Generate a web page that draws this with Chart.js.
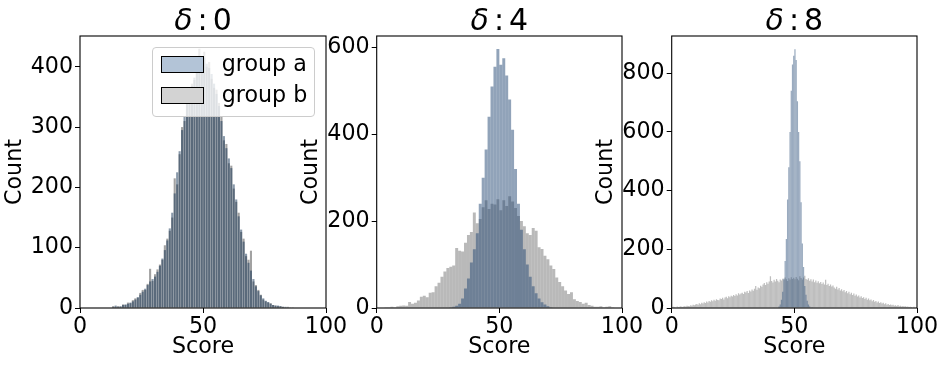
<!DOCTYPE html>
<html>
<head>
<meta charset="utf-8">
<script src="https://cdn.jsdelivr.net/npm/chart.js@4.4.0/dist/chart.umd.min.js"></script>
<style>
html,body{margin:0;padding:0;background:#fff;}
#wrap{position:relative;width:945px;height:366px;overflow:hidden;font-family:"DejaVu Sans";background:#fff;}
canvas{position:absolute;top:0;}
.title{position:absolute;top:2px;width:200px;height:35px;line-height:35px;font-size:30px;text-align:center;color:#000;white-space:nowrap;z-index:5;}
.title .d{font-style:italic;}
.title .c{margin:0 5px;}
.legend{position:absolute;left:151.7px;top:47.3px;width:161.3px;height:67.4px;background:rgba(255,255,255,0.8);border:1px solid #cccccc;border-radius:4px;z-index:5;}
.legend .patch{position:absolute;left:8px;width:43.3px;height:16.7px;border:1px solid #000;box-sizing:border-box;}
.legend .lab{position:absolute;left:69px;font-size:22.2px;line-height:25.84px;height:25.84px;color:#000;white-space:nowrap;}
</style>
</head>
<body>
<div id="wrap">
  <canvas id="c1" width="360" height="366" style="left:0px"></canvas>
  <canvas id="c2" width="360" height="366" style="left:300px"></canvas>
  <canvas id="c3" width="351" height="366" style="left:594px"></canvas>
  <div class="title" style="left:103px"><span class="d">δ</span><span class="c">:</span>0</div>
  <div class="title" style="left:399.35px"><span class="d">δ</span><span class="c">:</span>4</div>
  <div class="title" style="left:694.35px"><span class="d">δ</span><span class="c">:</span>8</div>
  <div class="legend">
    <div class="patch" style="top:7.7px;background:#b3c4d7"></div>
    <div class="lab" style="top:2.8px">group a</div>
    <div class="patch" style="top:39px;background:#d3d3d3"></div>
    <div class="lab" style="top:33.8px">group b</div>
  </div>
</div>
<script>
// ---------- DATA ----------
const seriesLabels = ['group a', 'group b'];
const panelTitles = ['δ:0', 'δ:4', 'δ:8'];
const xTickValues = [0, 50, 100];

// Panel δ:0 — bins of width 1 starting at 13
const p1BinStart = 13;
const p1BinWidth = 1;
const p1GroupAFirstBin = 0;
const p1GroupA = [2,4,2,3,5,6,7,9,11,14, 18,22,27,32,38,44,48,52,60,70,
  82,96,112,132,158,190,225,260,295,318, 338,355,368,382,395,410,418,415,405,398,
  388,372,355,335,310,285,265,248,232,205, 180,152,130,110,90,75,62,48,36,28,
  21,16,12,10,7,5,4,4,3,2, 2,1,1,1];
const p1GroupBFirstBin = 0;
const p1GroupB = [3,2,3,2,6,5,9,8,13,16, 17,25,30,30,40,65,45,56,64,72,
  80,104,115,128,150,215,205,255,300,310, 345,350,372,378,400,430,412,425,400,408,
  380,365,362,340,318,278,272,240,236,198, 176,158,126,115,86,80,95,44,38,30,
  22,14,11,9,8,5,4,3,3,2, 1,2,1,1];
const p1YTicks = [0, 100, 200, 300, 400];

// Panel δ:4 — bins of width 1.2 starting at 2
const p2BinStart = 2;
const p2BinWidth = 1.2;
const p2GroupAFirstBin = 22;
const p2GroupA = [1,2,3,5,10,22,45,68,105,135, 172,240,300,365,440,510,555,596,560,575,
  535,480,410,320,240,180,135,100,72,50, 34,22,13,8,4,2,1];
const p2GroupBFirstBin = 0;
const p2GroupB = [1,2,2,3,2,4,5,6,5,14, 10,12,17,26,28,25,35,36,50,58,
  72,84,92,95,98,138,132,130,150,168, 175,220,195,205,232,248,228,240,238,250,
  225,248,235,257,245,230,212,200,188,172, 168,184,178,140,136,120,112,98,90,70,
  60,50,40,32,36,20,16,14,10,12, 7,5,3,3,4,2,3,4,2,1];
const p2YTicks = [0, 200, 400, 600];

// Panel δ:8 — bins of width 0.5 starting at 0
const p3BinStart = 0;
const p3BinWidth = 0.5;
const p3GroupAFirstBin = 86;
const p3GroupA = [2,5,12,28,55,100,160,235,370,480, 600,740,830,860,882,845,705,600,500,360,
  220,140,75,45,25,12,5,2,1];
const p3GroupBFirstBin = 0;
const p3GroupB = [
  2,4,3,2,5,3,4,6,3,5,
  6,5,8,7,6,9,8,11,9,12,
  14,11,16,13,18,15,20,17,22,19,
  24,21,26,23,28,25,30,27,26,32,
  31,35,29,36,38,33,40,37,42,39,
  44,41,47,43,50,46,49,52,48,55,
  53,58,51,60,56,63,59,66,75,62,
  70,67,76,72,80,85,78,88,83,90,
  108,92,87,96,90,99,93,88,97,94,
  100,96,104,98,92,101,97,105,99,103,
  98,106,100,95,108,102,97,104,110,99,
  96,101,93,98,90,97,88,94,86,91,
  84,89,82,87,80,96,78,83,75,80,
  73,77,70,66,72,63,68,60,64,57,
  61,54,58,50,55,47,52,44,49,42,
  46,39,43,36,40,34,37,31,35,28,
  32,26,29,23,27,21,24,19,22,17,
  20,15,18,13,16,11,14,10,12,9,
  11,8,9,7,10,6,8,5,7,5,
  6,4,5,3,4,3,2,4,2,1];
const p3YTicks = [0, 200, 400, 600, 800];

// ---------- RENDERING ----------
const FONT = 'DejaVu Sans';

function binCenters(start, width, first, n) {
  const out = [];
  for (let i = 0; i < n; i++) out.push(+(start + width * (first + i + 0.5)).toFixed(4));
  return out;
}
function points(xs, ys) { return ys.map((y, i) => ({ x: xs[i], y: y })); }

const framePlugin = {
  id: 'frame',
  afterDatasetsDraw(chart) {
    const { ctx, chartArea: { left, top, right, bottom } } = chart;
    ctx.save();
    ctx.strokeStyle = '#000';
    ctx.lineWidth = 1.1;
    ctx.strokeRect(left, top, right - left, bottom - top);
    ctx.restore();
  }
};

function makePanel(id, s) {
  const xsA = binCenters(s.binStart, s.binWidth, s.aFirst, s.a.length);
  const xsB = binCenters(s.binStart, s.binWidth, s.bFirst, s.b.length);
  const common = { borderWidth: 0, inflateAmount: 0, grouped: false, barPercentage: s.bp, categoryPercentage: 1 };
  new Chart(document.getElementById(id), {
    type: 'bar',
    data: {
      datasets: [
        Object.assign({ label: seriesLabels[0], data: points(xsA, s.a), backgroundColor: s.colA }, common),
        Object.assign({ label: seriesLabels[1], data: points(xsB, s.b), backgroundColor: s.colB }, common)
      ]
    },
    options: {
      responsive: false,
      animation: false,
      devicePixelRatio: 1,
      layout: { padding: { left: 0, right: s.padR, top: 36, bottom: 0 } },
      plugins: { legend: { display: false }, tooltip: { enabled: false }, title: { display: false } },
      scales: {
        x: {
          type: 'linear', min: xTickValues[0], max: xTickValues[xTickValues.length - 1], offset: false,
          grid: { display: true, offset: false, drawOnChartArea: false, drawTicks: true, tickLength: 5, color: '#000', tickColor: '#000', lineWidth: 1 },
          border: { display: false },
          afterBuildTicks(scale) { scale.ticks = xTickValues.map(v => ({ value: v })); },
          ticks: { padding: 1, color: '#000', font: { family: FONT, size: 22.2 }, maxRotation: 0, autoSkip: false },
          title: { display: true, text: 'Score', color: '#000', font: { family: FONT, size: 22.2, lineHeight: 1 }, padding: { top: 0, bottom: 8 } },
          afterFit(scale) { scale.height = 58; }
        },
        y: {
          type: 'linear', min: 0, max: s.yMax,
          grid: { display: true, offset: false, drawOnChartArea: false, drawTicks: true, tickLength: 5, color: '#000', tickColor: '#000', lineWidth: 1 },
          border: { display: false },
          afterBuildTicks(scale) { scale.ticks = s.yTicks.map(v => ({ value: v })); },
          ticks: { padding: 2, color: '#000', font: { family: FONT, size: 22.2 }, autoSkip: false },
          title: { display: true, text: 'Count', color: '#000', font: { family: FONT, size: 22.2, lineHeight: 1 }, padding: { top: s.yTitlePad, bottom: 0 } },
          afterFit(scale) { scale.width = s.yWidth; }
        }
      }
    },
    plugins: [framePlugin]
  });
}

makePanel('c1', {
  binStart: p1BinStart, binWidth: p1BinWidth,
  aFirst: p1GroupAFirstBin, a: p1GroupA, bFirst: p1GroupBFirstBin, b: p1GroupB,
  yMax: 451, yTicks: p1YTicks,
  colA: 'rgba(20,52,86,0.5)', colB: 'rgba(70,70,70,0.5)', bp: 0.86,
  padR: 34, yWidth: 80, yTitlePad: 3.9
});
makePanel('c2', {
  binStart: p2BinStart, binWidth: p2BinWidth,
  aFirst: p2GroupAFirstBin, a: p2GroupA, bFirst: p2GroupBFirstBin, b: p2GroupB,
  yMax: 626, yTicks: p2YTicks,
  colA: 'rgba(35,71,115,0.5)', colB: 'rgba(115,115,115,0.5)', bp: 1,
  padR: 38, yWidth: 76.7, yTitlePad: 0.6
});
makePanel('c3', {
  binStart: p3BinStart, binWidth: p3BinWidth,
  aFirst: p3GroupAFirstBin, a: p3GroupA, bFirst: p3GroupBFirstBin, b: p3GroupB,
  yMax: 927, yTicks: p3YTicks,
  colA: 'rgba(53,87,127,0.5)', colB: 'rgba(125,125,125,0.5)', bp: 1,
  padR: 28, yWidth: 77.7, yTitlePad: 1.6
});
</script>
</body>
</html>
